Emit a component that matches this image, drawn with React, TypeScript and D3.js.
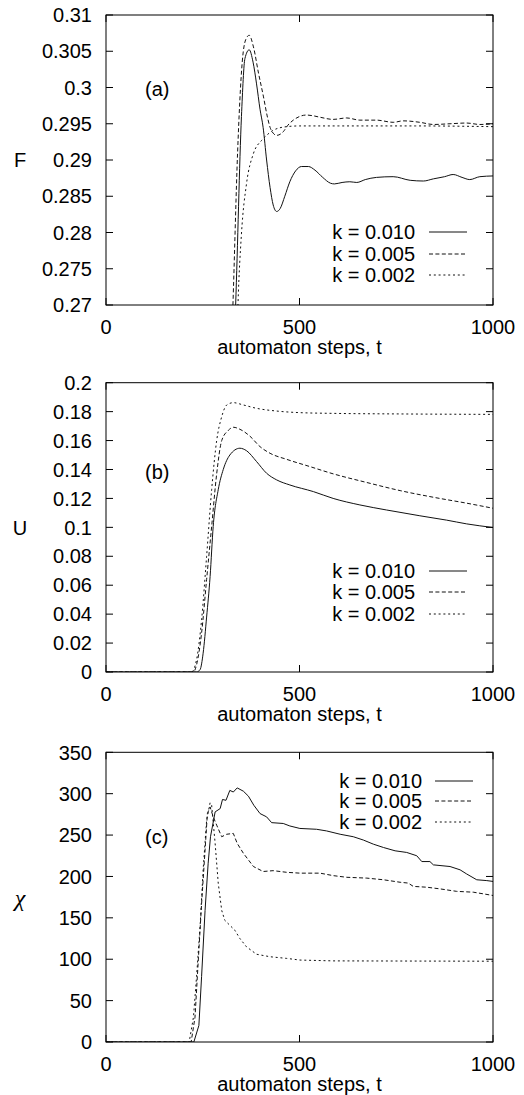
import React from "react";
import * as d3 from "d3";

// ---------- data ----------
const legendLabels = ["k = 0.010", "k = 0.005", "k = 0.002"];
const xTicks = [0, 500, 1000];

// Panel (a): F
const fK010: [number, number][] = [
  [320, 0.25], [335, 0.27], [350, 0.296], [359, 0.304], [370, 0.3052], [380, 0.3035],
  [389, 0.3005], [398, 0.297], [406, 0.2945], [415, 0.29], [424, 0.2862], [432, 0.2838],
  [441, 0.2829], [450, 0.2833], [462, 0.285], [475, 0.287], [490, 0.2885], [505, 0.2891],
  [523, 0.2891], [540, 0.2886], [560, 0.2876], [580, 0.2868], [590, 0.2867], [610, 0.2869],
  [630, 0.287], [648, 0.2869], [670, 0.2873], [699, 0.2876], [742, 0.2877], [786, 0.2872],
  [820, 0.2871], [846, 0.2874], [875, 0.2877], [897, 0.288], [920, 0.2876], [940, 0.2873],
  [966, 0.2877], [1000, 0.2878],
];
const fK005: [number, number][] = [
  [318, 0.255], [328, 0.27], [340, 0.291], [352, 0.3035], [361, 0.3066], [370, 0.3072],
  [381, 0.3056], [394, 0.302], [407, 0.2987], [416, 0.2962], [424, 0.2945], [432, 0.2937],
  [441, 0.2934], [458, 0.2939], [470, 0.2948], [484, 0.2955], [500, 0.296], [518, 0.2962],
  [535, 0.2961], [553, 0.2959], [587, 0.2956], [622, 0.2958], [656, 0.2955], [699, 0.2955],
  [742, 0.2952], [768, 0.2954], [811, 0.2952], [846, 0.2949], [889, 0.295], [932, 0.2951],
  [966, 0.2949], [1000, 0.295],
];
const fK002: [number, number][] = [
  [332, 0.25], [341, 0.27], [350, 0.2798], [363, 0.2867], [381, 0.2909], [402, 0.2927],
  [415, 0.2934], [432, 0.2941], [467, 0.2946], [500, 0.2947], [600, 0.2947], [800, 0.2947],
  [1000, 0.2946],
];

// Panel (b): U
const uK010: [number, number][] = [
  [0, 0], [234, 0], [243, 0.0016], [251, 0.013], [260, 0.038], [269, 0.066], [277, 0.1006],
  [290, 0.126], [303, 0.14], [320, 0.15], [346, 0.1547], [363, 0.153], [389, 0.1455],
  [415, 0.1374], [441, 0.1328], [475, 0.1293], [536, 0.1247], [587, 0.12], [656, 0.1155],
  [725, 0.112], [811, 0.108], [880, 0.105], [932, 0.1024], [1000, 0.0999],
];
const uK005: [number, number][] = [
  [0, 0], [226, 0], [234, 0.005], [247, 0.027], [260, 0.064], [273, 0.1006], [286, 0.137],
  [299, 0.16], [316, 0.167], [329, 0.1692], [346, 0.1678], [372, 0.163], [398, 0.1558],
  [424, 0.1512], [467, 0.147], [527, 0.142], [587, 0.137], [674, 0.131], [760, 0.1254],
  [846, 0.1208], [932, 0.1167], [1000, 0.1132],
];
const uK002: [number, number][] = [
  [0, 0], [221, 0], [234, 0.0085], [247, 0.036], [260, 0.08], [273, 0.126], [286, 0.16],
  [299, 0.1765], [312, 0.1846], [329, 0.1862], [355, 0.1846], [389, 0.1823], [441, 0.1804],
  [501, 0.1793], [587, 0.1788], [760, 0.1784], [1000, 0.1781],
];

// Panel (c): chi
const cK010: [number, number][] = [
  [0, 0], [227, 0], [240, 20], [247, 79], [256, 159], [264, 216], [270, 248], [282, 278],
  [295, 282], [301, 293], [310, 292], [320, 304], [329, 302], [339, 307], [355, 303],
  [368, 297], [382, 286], [398, 276], [415, 272], [428, 265], [458, 264], [475, 261],
  [501, 258], [544, 257], [570, 255], [605, 251], [639, 248], [665, 244], [691, 239],
  [717, 235], [747, 231], [777, 229], [803, 225], [816, 218], [837, 218], [846, 214],
  [889, 212], [915, 208], [932, 203], [958, 196], [984, 195], [1000, 194],
];
const cK005: [number, number][] = [
  [0, 0], [220, 0], [230, 30], [239, 103], [247, 167], [256, 232], [262, 276], [269, 284],
  [277, 272], [286, 262], [299, 248], [312, 251], [329, 252], [339, 240], [355, 228],
  [368, 220], [381, 212], [406, 206], [432, 207], [467, 205], [501, 204], [553, 204],
  [587, 201], [622, 199], [674, 198], [717, 196], [760, 193], [781, 192], [794, 188],
  [829, 187], [863, 185], [906, 182], [949, 181], [975, 179], [1000, 177],
];
const cK002: [number, number][] = [
  [0, 0], [215, 0], [226, 30], [234, 79], [243, 139], [251, 208], [260, 268], [269, 289],
  [273, 286], [282, 240], [290, 192], [299, 159], [307, 147], [320, 141], [333, 135],
  [346, 125], [363, 115], [389, 106], [424, 103], [467, 101], [501, 99], [587, 98],
  [1000, 97.6],
];

const fTicks = [0.27, 0.275, 0.28, 0.285, 0.29, 0.295, 0.3, 0.305, 0.31];
const fTickLabels = ["0.27", "0.275", "0.28", "0.285", "0.29", "0.295", "0.3", "0.305", "0.31"];
const uTicks = [0, 0.02, 0.04, 0.06, 0.08, 0.1, 0.12, 0.14, 0.16, 0.18, 0.2];
const uTickLabels = ["0", "0.02", "0.04", "0.06", "0.08", "0.1", "0.12", "0.14", "0.16", "0.18", "0.2"];
const cTicks = [0, 50, 100, 150, 200, 250, 300, 350];
const cTickLabels = ["0", "50", "100", "150", "200", "250", "300", "350"];

// ---------- layout ----------
const W = 524;
const H = 1095;
const X0 = 106;
const X1 = 493;
const FONT = "'Liberation Sans', Arial, Helvetica, sans-serif";
const dashes = [null, "4,2.4", "2,2.8"];

type PanelProps = {
  id: string;
  top: number;
  bottom: number;
  domain: [number, number];
  ticks: number[];
  tickLabels: string[];
  series: [number, number][][];
  yLabel: string;
  yLabelItalicSerif?: boolean;
  panelLabel: string;
  panelLabelY: number;
  legendRight: number;
  legendLine: [number, number];
  legendRows: number[];
  smooth: boolean;
};

function Panel(p: PanelProps) {
  const x = d3.scaleLinear().domain([0, 1000]).range([X0, X1]);
  const y = d3.scaleLinear().domain(p.domain).range([p.bottom, p.top]);
  const line = d3
    .line<[number, number]>()
    .x((d) => x(d[0]))
    .y((d) => y(d[1]))
    .curve(p.smooth ? d3.curveMonotoneX : d3.curveLinear);
  const tl = 7;
  const mid = (p.top + p.bottom) / 2;
  return (
    <g>
      <defs>
        <clipPath id={"clip" + p.id}>
          <rect x={X0} y={p.top} width={X1 - X0} height={p.bottom - p.top} />
        </clipPath>
      </defs>
      <g clipPath={`url(#clip${p.id})`}>
        {p.series.map((s, i) => (
          <path
            key={i}
            d={line(s) || ""}
            fill="none"
            stroke="#111"
            strokeWidth={1}
            strokeDasharray={dashes[i] || undefined}
          />
        ))}
      </g>
      <rect x={X0} y={p.top} width={X1 - X0} height={p.bottom - p.top} fill="none" stroke="#000" strokeWidth={1} />
      {p.ticks.map((t, i) => (
        <g key={"y" + i}>
          <line x1={X0} x2={X0 + tl} y1={y(t)} y2={y(t)} stroke="#000" />
          <line x1={X1} x2={X1 - tl} y1={y(t)} y2={y(t)} stroke="#000" />
          <text x={92} y={y(t)} dy="0.36em" textAnchor="end" fontSize={20} fontFamily={FONT}>
            {p.tickLabels[i]}
          </text>
        </g>
      ))}
      {xTicks.map((t) => (
        <g key={"x" + t}>
          <line x1={x(t)} x2={x(t)} y1={p.bottom} y2={p.bottom - tl} stroke="#000" />
          <line x1={x(t)} x2={x(t)} y1={p.top} y2={p.top + tl} stroke="#000" />
          <text x={x(t)} y={p.bottom + 29} textAnchor="middle" fontSize={20} fontFamily={FONT}>
            {t}
          </text>
        </g>
      ))}
      <text x={(X0 + X1) / 2} y={p.bottom + 49} textAnchor="middle" fontSize={20} fontFamily={FONT}>
        automaton steps, t
      </text>
      <text
        x={20}
        y={mid}
        dy="0.36em"
        textAnchor="middle"
        fontSize={p.yLabelItalicSerif ? 24 : 20}
        fontStyle={p.yLabelItalicSerif ? "italic" : "normal"}
        fontFamily={p.yLabelItalicSerif ? "'Liberation Serif', 'DejaVu Serif', serif" : FONT}
      >
        {p.yLabel}
      </text>
      <text x={145} y={p.panelLabelY} dy="0.36em" fontSize={20} fontFamily={FONT}>
        {p.panelLabel}
      </text>
      {legendLabels.map((lab, i) => (
        <g key={"l" + i}>
          <text x={p.legendRight} y={p.legendRows[i]} dy="0.36em" textAnchor="end" fontSize={20} fontFamily={FONT}>
            {lab}
          </text>
          <line
            x1={p.legendLine[0]}
            x2={p.legendLine[1]}
            y1={p.legendRows[i]}
            y2={p.legendRows[i]}
            stroke="#111"
            strokeWidth={1}
            strokeDasharray={dashes[i] || undefined}
          />
        </g>
      ))}
    </g>
  );
}

export default function App() {
  return (
    <svg width={W} height={H} style={{ display: "block", position: "absolute", left: 0, top: 0 }}>
      <rect width={W} height={H} fill="#fff" />
      <Panel
        id="a"
        top={15}
        bottom={305}
        domain={[0.27, 0.31]}
        ticks={fTicks}
        tickLabels={fTickLabels}
        series={[fK010, fK005, fK002]}
        yLabel="F"
        panelLabel="(a)"
        panelLabelY={89}
        legendRight={415}
        legendLine={[429, 467]}
        legendRows={[232, 254, 275]}
        smooth={true}
      />
      <Panel
        id="b"
        top={382.7}
        bottom={672}
        domain={[0, 0.2]}
        ticks={uTicks}
        tickLabels={uTickLabels}
        series={[uK010, uK005, uK002]}
        yLabel="U"
        panelLabel="(b)"
        panelLabelY={472}
        legendRight={415}
        legendLine={[429, 467]}
        legendRows={[571, 592, 614]}
        smooth={true}
      />
      <Panel
        id="c"
        top={752.3}
        bottom={1042}
        domain={[0, 350]}
        ticks={cTicks}
        tickLabels={cTickLabels}
        series={[cK010, cK005, cK002]}
        yLabel="χ"
        yLabelItalicSerif={true}
        panelLabel="(c)"
        panelLabelY={837}
        legendRight={422}
        legendLine={[435, 473]}
        legendRows={[781, 801, 822]}
        smooth={false}
      />
    </svg>
  );
}
